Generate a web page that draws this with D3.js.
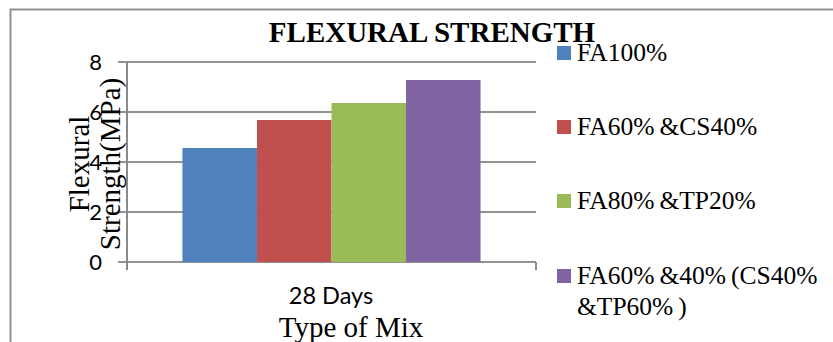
<!DOCTYPE html>
<html>
<head>
<meta charset="utf-8">
<script src="https://cdn.jsdelivr.net/npm/d3@7"></script>
<style>
  html, body { margin: 0; padding: 0; background: #fff; }
  svg { display: block; }
</style>
</head>
<body>
<svg id="chart" width="833" height="342"></svg>
<script>
// Flexural strength at 28 days for four binder mixes
const categories = ["28 Days"];
const seriesNames = ["FA100%", "FA60%&CS40%", "FA80%&TP20%", "FA60%&40%(CS40%&TP60%)"];
const seriesValues = [4.56, 5.68, 6.36, 7.28];
const yTicks = [0, 2, 4, 6, 8];
const colors = ["#4F81BD", "#C0504D", "#9BBB59", "#8064A2"];

// Legend lines, split where the text wraps; gaps after "%" drawn as small offsets
const legendLines = [
  [["FA100%"]],
  [["FA60%", "&CS40%"]],
  [["FA80%", "&TP20%"]],
  [["FA60%", "&40%", "(CS40%"], ["&TP60%", ")"]]
];

const svg = d3.select("#chart");
const serif = "'Liberation Serif', 'Times New Roman', serif";
const sans = "Lato, 'Open Sans', sans-serif";

// outer frame
svg.append("rect")
  .attr("x", 10.5).attr("y", 9.5)
  .attr("width", 840).attr("height", 360)
  .attr("fill", "none").attr("stroke", "#8f8f8f").attr("stroke-width", 2);

const plot = { left: 127, right: 536, top: 62, bottom: 262 };

const y = d3.scaleLinear().domain([0, 8]).range([plot.bottom, plot.top]);
const x0 = d3.scaleBand().domain(categories).range([plot.left, plot.right])
  .paddingInner(0).paddingOuter(0.186);
const x1 = d3.scaleBand().domain(seriesNames).range([0, x0.bandwidth()]).padding(0);

// gridlines with tick stubs
const grid = svg.append("g");
grid.selectAll("line").data(yTicks).join("line")
  .attr("x1", plot.left - 9).attr("x2", plot.right)
  .attr("y1", d => y(d)).attr("y2", d => y(d))
  .attr("stroke", "#929292").attr("stroke-width", 2);

// bars
const gCat = svg.selectAll("g.cat").data(categories).join("g")
  .attr("class", "cat")
  .attr("transform", d => `translate(${x0(d)},0)`);
gCat.selectAll("rect").data(seriesValues.map((v, i) => ({ name: seriesNames[i], v, c: colors[i] })))
  .join("rect")
  .attr("x", d => x1(d.name))
  .attr("width", x1.bandwidth())
  .attr("y", d => y(d.v))
  .attr("height", d => y(0) - y(d.v))
  .attr("fill", d => d.c);

// y axis line and bottom-right tick
svg.append("line")
  .attr("x1", plot.left).attr("x2", plot.left)
  .attr("y1", plot.top).attr("y2", plot.bottom + 8)
  .attr("stroke", "#8a8a8a").attr("stroke-width", 2);
svg.append("line")
  .attr("x1", plot.right).attr("x2", plot.right)
  .attr("y1", plot.bottom).attr("y2", plot.bottom + 8)
  .attr("stroke", "#8a8a8a").attr("stroke-width", 2);

// y tick labels
svg.append("g").selectAll("text").data(yTicks).join("text")
  .attr("x", 102).attr("y", d => y(d) + 8)
  .attr("text-anchor", "end")
  .attr("font-family", sans).attr("font-size", 22)
  .attr("fill", "#000")
  .text(d => d);

// category label
svg.selectAll("text.cat").data(categories).join("text")
  .attr("class", "cat")
  .attr("x", d => x0(d) + x0.bandwidth() / 2 - 0.5)
  .attr("y", 304)
  .attr("text-anchor", "middle")
  .attr("font-family", sans).attr("font-size", 23.5)
  .text(d => d);

// titles
svg.append("text")
  .attr("x", 432).attr("y", 42)
  .attr("text-anchor", "middle")
  .attr("font-family", serif).attr("font-weight", "bold").attr("font-size", 29)
  .text("FLEXURAL STRENGTH");

svg.append("text")
  .attr("x", 351).attr("y", 337)
  .attr("text-anchor", "middle")
  .attr("font-family", serif).attr("font-size", 29)
  .text("Type of Mix");

const yTitle = svg.append("text")
  .attr("transform", "translate(0,164) rotate(-90)")
  .attr("text-anchor", "middle")
  .attr("font-family", serif).attr("font-size", 29);
yTitle.append("tspan").attr("x", 0).attr("y", 89).text("Flexural");
yTitle.append("tspan").attr("x", 0).attr("y", 120).text("Strength(MPa)");

// legend
const legendY = [46, 120, 194, 269];
const leg = svg.append("g");
seriesNames.forEach((name, i) => {
  leg.append("rect")
    .attr("x", 557).attr("y", legendY[i])
    .attr("width", 14).attr("height", 14)
    .attr("fill", colors[i]);
  legendLines[i].forEach((parts, li) => {
    const t = leg.append("text")
      .attr("x", 577).attr("y", legendY[i] + 15 + li * 31)
      .attr("font-family", serif).attr("font-size", 25.5);
    parts.forEach((p, pi) => {
      t.append("tspan").attr("dx", pi === 0 ? 0 : 5).text(p);
    });
  });
});
</script>
</body>
</html>
